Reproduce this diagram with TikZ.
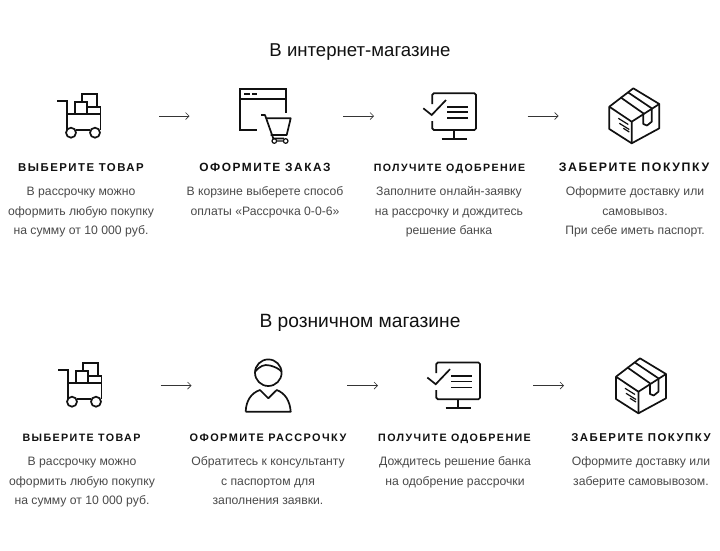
\documentclass[tikz,border=0pt]{standalone}
\usepackage{fontspec}
\setmainfont{Liberation Sans}
\newfontfamily\headfont[LetterSpace=13]{Liberation Sans}
\usetikzlibrary{arrows.meta}
\definecolor{ink}{HTML}{111111}
\definecolor{bodygray}{HTML}{4A4A4A}
\newcommand{\headsz}[1]{\fontsize{#1}{14}\selectfont}
\tikzset{
  x=1pt,y=-1pt,
  ic/.style={draw=ink,line width=1.7pt,line join=miter,line cap=butt},
  flow/.style={draw=ink!85,line width=0.7pt,-{Straight Barb[length=3.5pt,width=7pt,line width=0.7pt]}},
  titletext/.style={inner sep=0pt,anchor=base,text=ink,font=\fontsize{18.6}{20}\selectfont},
  headtext/.style={inner sep=0pt,anchor=base,text=ink,font=\headfont\bfseries},
  bodytext/.style={inner sep=0pt,anchor=north,align=center,text=bodygray,font=\fontsize{12.2}{19.5}\selectfont},
  pics/carticon/.style={code={
    \draw[ic] (57.3,101)--(66.7,101)--(66.7,130);
    \draw[ic] (100.5,107)--(100.5,130);
    \draw[ic] (66.7,114)--(100.5,114);
    \draw[ic] (76,130)--(90,130);
    \draw[ic] (75,114)--(75,102.3)--(87.3,102.3)--(87.3,114);
    \draw[ic] (81.7,102.3)--(81.7,94)--(96.7,94)--(96.7,107.3);
    \draw[ic] (87.3,107.3)--(100.5,107.3);
    \draw[ic] (71,132.7) circle (5);
    \draw[ic] (95,132.7) circle (5);
  }},
  pics/monitoricon/.style={code={
    \draw[ic,rounded corners=1.5pt] (432.3,104)--(432.3,93.3)--(476,93.3)--(476,130)--(432.3,130)--(432.3,121);
    \draw[ic] (423.3,108.3)--(431.7,115)--(446,100);
    \draw[ic] (447.3,106.7)--(468.3,106.7) (447.3,112.3)--(468.3,112.3) (447.3,118.3)--(468.3,118.3);
    \draw[ic] (454,130)--(454,139) (441.7,139)--(466.7,139);
  }},
  pics/boxicon/.style={code={
    \draw[ic,line join=round] (633.3,88.3)--(659.3,104)--(659.3,128.3)--(631.7,143.3)--(609.3,129)--(609.3,106.7)--cycle;
    \draw[ic,line join=round] (609.3,106.7)--(631.7,121.7)--(659.3,104) (631.7,121.7)--(631.7,143.3);
    \draw[ic,line join=round] (620.5,97.3)--(643.3,113.3)--(643.3,124)--(647,125.5)--(651.7,121.7)--(651.7,108.3)--(628.5,92.7);
    \draw[ic,line width=1.2pt] (618.3,118.3)--(628.3,124.5) (619.3,123.3)--(629.3,129.5) (623.3,128.3)--(629.3,132);
  }}
}
\begin{document}
\begin{tikzpicture}
\useasboundingbox (0,0) rectangle (720,550);
\fill[white] (0,0) rectangle (720,550);
% titles
\node[titletext] (t1) at (360,56.5) {В интернет-магазине};
\node[titletext] (t2) at (360,327.5) {\fontsize{19.2}{20}\selectfont В розничном магазине};
% row 1 icons
\pic {carticon};
\draw[ic] (240,113.3)--(240,130)--(256.7,130) (240,113.3)--(240,89)--(285.7,89)--(285.7,113.3) (240,99)--(285.7,99);
\draw[ic] (244.3,94)--(250,94) (252.3,94)--(256.7,94);
\draw[ic,line join=round] (261,115)--(265,115)--(273.3,138.5)--(284,138.5) (265.7,118.3)--(290.7,118.3)--(286.7,135)--(270.5,135);
\draw[ic,line width=1.2pt] (274.3,141) circle (2.3) (285.7,141) circle (2.3) (276.6,141)--(283.4,141);
\pic {monitoricon};
\pic {boxicon};
% row 1 arrows
\coordinate (a1s) at (159,116); \coordinate (a1e) at (189.5,116);
\coordinate (a2s) at (343,116); \coordinate (a2e) at (374,116);
\coordinate (a3s) at (527.5,116); \coordinate (a3e) at (558.5,116);
\draw[flow] (a1s)--(a1e);
\draw[flow] (a2s)--(a2e);
\draw[flow] (a3s)--(a3e);
% row 1 text
\node[headtext] (h1) at (81,171.5) {\headsz{11.4}ВЫБЕРИТЕ ТОВАР};
\node[headtext] (h2) at (265,171.5) {\headsz{11.9}ОФОРМИТЕ ЗАКАЗ};
\node[headtext] (h3) at (449.5,171.5) {\headsz{10.6}ПОЛУЧИТЕ ОДОБРЕНИЕ};
\node[headtext] (h4) at (634,171.5) {\headsz{12.3}ЗАБЕРИТЕ ПОКУПКУ};
\node[bodytext] (b1) at (81,182) {\strut В рассрочку можно\\оформить любую покупку\\на сумму от 10 000 руб.};
\node[bodytext] (b2) at (265,182) {\strut В корзине выберете способ\\оплаты «Рассрочка 0-0-6»};
\node[bodytext] (b3) at (449,182) {\strut Заполните онлайн-заявку\\на рассрочку и дождитесь\\решение банка};
\node[bodytext] (b4) at (635,182) {\strut Оформите доставку или\\самовывоз.\\При себе иметь паспорт.};
% row 2 icons
\pic[shift={(1,269)}] {carticon};
\draw[ic] (268.3,372.7) circle (13.3);
\draw[ic] (255,371.7) .. controls (260,366) and (264,364) .. (270,365.5) .. controls (275,367) and (278,368) .. (281.7,371.7);
\draw[ic,line join=round] (245.7,411.7)--(290.7,411.7) .. controls (290,401) and (285,393) .. (276.7,390)--(268.3,398.3)--(260,390) .. controls (251,393) and (246,401) .. (245.7,411.7);
\pic[shift={(4,269.2)}] {monitoricon};
\pic[shift={(6.7,270)}] {boxicon};
% row 2 arrows
\coordinate (c1s) at (160.5,385.5); \coordinate (c1e) at (191.5,385.5);
\coordinate (c2s) at (347,385.5); \coordinate (c2e) at (378,385.5);
\coordinate (c3s) at (533,385.5); \coordinate (c3e) at (564,385.5);
\draw[flow] (c1s)--(c1e);
\draw[flow] (c2s)--(c2e);
\draw[flow] (c3s)--(c3e);
% row 2 text
\node[headtext] (k1) at (81.5,441.5) {\headsz{10.7}ВЫБЕРИТЕ ТОВАР};
\node[headtext] (k2) at (268,441.5) {\headsz{10.9}ОФОРМИТЕ РАССРОЧКУ};
\node[headtext] (k3) at (454.5,441.5) {\headsz{10.7}ПОЛУЧИТЕ ОДОБРЕНИЕ};
\node[headtext] (k4) at (641,441.5) {\headsz{11.4}ЗАБЕРИТЕ ПОКУПКУ};
\node[bodytext] (m1) at (82,452) {\strut В рассрочку можно\\оформить любую покупку\\на сумму от 10 000 руб.};
\node[bodytext] (m2) at (268,452) {\strut Обратитесь к консультанту\\с паспортом для\\заполнения заявки.};
\node[bodytext] (m3) at (455,452) {\strut Дождитесь решение банка\\на одобрение рассрочки};
\node[bodytext] (m4) at (641,452) {\strut Оформите доставку или\\заберите самовывозом.};
\end{tikzpicture}
\end{document}
